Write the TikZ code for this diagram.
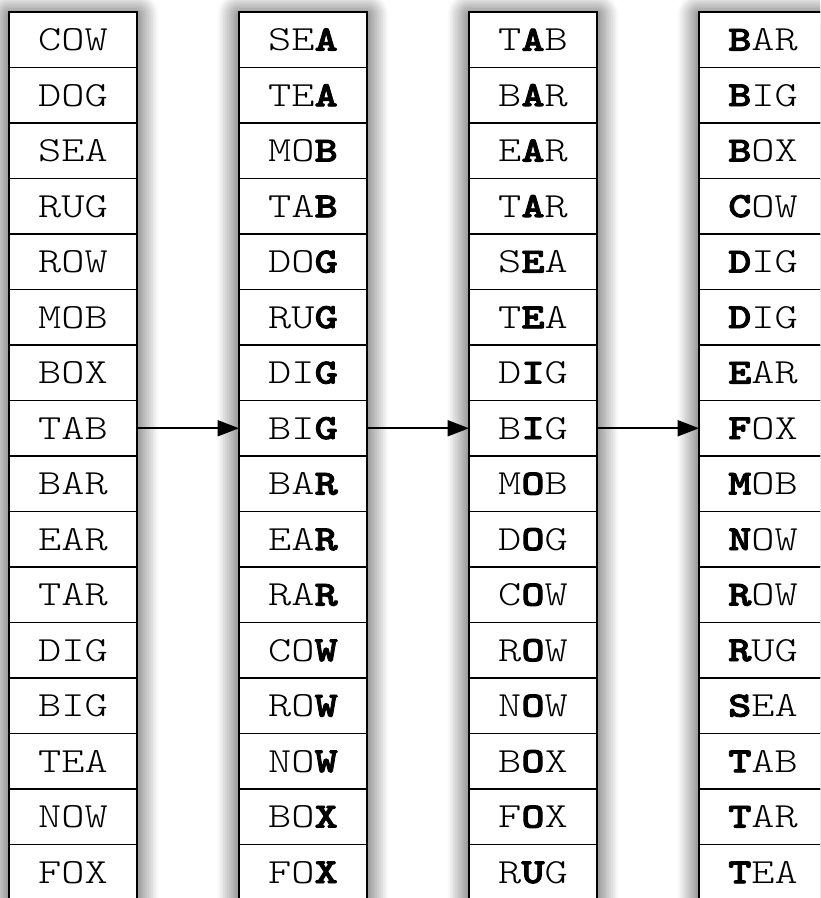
\documentclass[tikz,border=0pt]{standalone}
\usepackage{fontspec}
\newfontfamily\cour{lmmonolt10-regular.otf}[FakeStretch=1.25, BoldFont=lmmonolt10-bold.otf, BoldFeatures={FakeBold=2.5}]
\usetikzlibrary{arrows.meta,shadows.blur}
\begin{document}
\begin{tikzpicture}[x=0.75pt,y=-0.75pt,
  cell/.style={draw, line width=1.1pt, minimum width=96pt, minimum height=41.625pt,
    inner sep=0pt, outer sep=0pt, font=\cour\fontsize{26.5pt}{26.5pt}\selectfont},
  colbox/.style={draw, fill=white, line width=1.3pt, anchor=north west,
    minimum width=96pt, minimum height=666pt, inner sep=0pt, outer sep=0pt,
    blur shadow={shadow xshift=0pt, shadow yshift=-2pt, shadow blur radius=16pt,
      shadow blur steps=12, shadow opacity=85}},
  link/.style={-{Triangle[length=16pt,width=12pt]}, line width=1.2pt}]
\useasboundingbox (0,0) rectangle (820,898);
\clip (0,0) rectangle (820,898);
\node[colbox] (col1) at (9,12) {};
\node[colbox] (col2) at (239,12) {};
\node[colbox] (col3) at (469,12) {};
\node[colbox] (col4) at (699,12) {};
\foreach \w [count=\i] in {COW,DOG,SEA,RUG,ROW,MOB,BOX,TAB,BAR,EAR,TAR,DIG,BIG,TEA,NOW,FOX}
  \node[cell] (a\i) at (73,{12+55.5*(\i-0.5)}) {\w};
\foreach \p/\q [count=\i] in {SE/A,TE/A,MO/B,TA/B,DO/G,RU/G,DI/G,BI/G,BA/R,EA/R,RA/R,CO/W,RO/W,NO/W,BO/X,FO/X}
  \node[cell] (b\i) at (303,{12+55.5*(\i-0.5)}) {\p\textbf{\q}};
\foreach \p/\q/\r [count=\i] in {T/A/B,B/A/R,E/A/R,T/A/R,S/E/A,T/E/A,D/I/G,B/I/G,M/O/B,D/O/G,C/O/W,R/O/W,N/O/W,B/O/X,F/O/X,R/U/G}
  \node[cell] (c\i) at (533,{12+55.5*(\i-0.5)}) {\p\textbf{\q}\r};
\foreach \p/\q [count=\i] in {B/AR,B/IG,B/OX,C/OW,D/IG,D/IG,E/AR,F/OX,M/OB,N/OW,R/OW,R/UG,S/EA,T/AB,T/AR,T/EA}
  \node[cell] (d\i) at (763,{12+55.5*(\i-0.5)}) {\textbf{\p}\q};
\draw[link] (a8.east) -- (b8.west);
\draw[link] (b8.east) -- (c8.west);
\draw[link] (c8.east) -- (d8.west);
\end{tikzpicture}
\end{document}
